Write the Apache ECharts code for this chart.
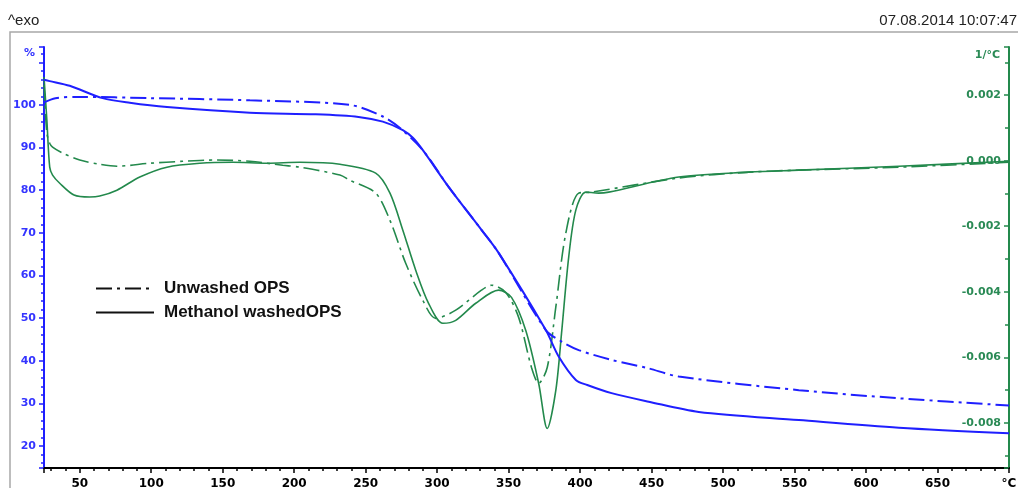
<!DOCTYPE html>
<html>
<head>
<meta charset="utf-8">
<script src="https://cdn.jsdelivr.net/npm/echarts@6/dist/echarts.min.js"></script>
<style>
  html, body { margin: 0; padding: 0; background: #fff; }
  #chart { width: 1018px; height: 488px; }
</style>
</head>
<body>
<div id="chart"></div>
<script>
// TGA, methanol washed OPS (% mass)
const tgaWashedT = [25, 29, 43, 66, 85, 111, 169, 215, 245, 262, 276, 283, 290, 308, 331, 343, 376, 385, 397, 405, 422, 448, 483, 553, 623, 700];
const tgaWashedPct = [105.9, 105.6, 104.5, 101.6, 100.5, 99.5, 98.2, 97.8, 97.2, 96.1, 94.1, 92.3, 89.4, 80.8, 70.7, 65.3, 47.2, 41.0, 35.5, 34.3, 32.4, 30.4, 28.0, 26.1, 24.3, 23.0];

// TGA, unwashed OPS (% mass)
const tgaUnwashedT = [25, 33, 50, 99, 169, 239, 262, 274, 290, 308, 331, 343, 376, 387, 399, 422, 447, 469, 553, 623, 700];
const tgaUnwashedPct = [100.6, 101.6, 101.9, 101.6, 101.1, 100.0, 97.3, 94.6, 89.4, 80.8, 70.7, 65.3, 47.2, 44.5, 42.5, 40.2, 38.3, 36.3, 33.1, 31.2, 29.5];

// DTG, methanol washed OPS (1/°C)
const dtgWashedT = [25, 27, 29, 31, 36, 46, 57, 64, 76, 92, 111, 134, 157, 181, 204, 232, 257, 267, 276, 285, 294, 304, 313, 327, 343, 352, 362, 371, 377, 383, 387, 392, 397, 404, 413, 420, 469, 518, 553, 623, 700];
const dtgWashedVal = [0.00255, 0.00124, -0.00020, -0.00044, -0.00069, -0.00105, -0.00111, -0.00108, -0.00090, -0.00050, -0.00020, -0.00008, -0.00005, -0.00008, -0.00005, -0.00011, -0.00038, -0.00099, -0.00212, -0.00334, -0.00435, -0.00496, -0.00487, -0.00435, -0.00395, -0.00417, -0.00518, -0.00679, -0.00817, -0.00701, -0.00527, -0.00295, -0.00151, -0.00096, -0.00099, -0.00096, -0.00050, -0.00035, -0.00029, -0.00017, -0.00002];

// DTG, unwashed OPS (1/°C)
const dtgUnwashedT = [25, 27, 29, 31, 38, 50, 64, 76, 99, 122, 146, 169, 192, 204, 232, 239, 257, 267, 278, 290, 299, 313, 331, 338, 348, 357, 366, 371, 377, 383, 390, 399, 408, 469, 518, 553, 623, 700];
const dtgUnwashedVal = [0.00231, 0.00084, 0.00053, 0.00041, 0.00023, 0.00002, -0.00011, -0.00017, -0.00008, -0.00002, 0.00002, -0.00002, -0.00014, -0.00020, -0.00044, -0.00060, -0.00099, -0.00182, -0.00313, -0.00426, -0.00481, -0.00456, -0.00395, -0.00380, -0.00402, -0.00478, -0.00631, -0.00679, -0.00631, -0.00447, -0.00221, -0.00099, -0.00096, -0.00053, -0.00035, -0.00029, -0.00020, -0.00005];

const legendNames = ['Unwashed OPS', 'Methanol washedOPS'];

const blue = '#1f1fff';
const blueText = '#3434ff';
const green = '#23894c';
const greenText = '#2a8a55';
const dashDot = [16, 5, 3, 5];
const labelFont = { fontFamily: 'DejaVu Sans', fontWeight: 'bold', fontSize: 11 };

function pairs(xs, ys) {
    return xs.map((x, i) => [x, ys[i]]);
}

const chart = echarts.init(document.getElementById('chart'));

chart.setOption({
    animation: false,
    title: [
        { text: '^exo', left: 8, top: 13, padding: 0, textStyle: { fontFamily: 'Liberation Sans', fontSize: 15, fontWeight: 'normal', color: '#222' } },
        { text: '07.08.2014 10:07:47', right: 1, top: 13, padding: 0, textStyle: { fontFamily: 'Liberation Sans', fontSize: 15, fontWeight: 'normal', color: '#222' } }
    ],
    graphic: [{
        type: 'rect', silent: true, z: -1,
        shape: { x: 10, y: 32, width: 1040, height: 480 },
        style: { fill: 'none', stroke: '#a8a8a8', lineWidth: 1.5 }
    }],
    legend: {
        data: legendNames,
        orient: 'vertical', left: 95, top: 280, padding: 0,
        itemWidth: 58, itemHeight: 18, itemGap: 7,
        itemStyle: { opacity: 0 },
        textStyle: { fontFamily: 'Liberation Sans', fontWeight: 'bold', fontSize: 17, color: '#111', padding: [0, 0, 0, 5] }
    },
    grid: { left: 44, right: 9, top: 47, bottom: 20, containLabel: false, outerBoundsMode: 'none' },
    xAxis: {
        type: 'value', min: 25, max: 700, splitNumber: 13,
        splitLine: { show: false },
        axisLine: { onZero: false, lineStyle: { color: '#000', width: 2 } },
        axisTick: { length: 5, lineStyle: { color: '#000', width: 1.5 } },
        minorTick: { show: true, splitNumber: 5, length: 3, lineStyle: { color: '#000', width: 1.5 } },
        axisLabel: Object.assign({
            showMinLabel: false, showMaxLabel: true, margin: 10, color: '#000',
            formatter: v => v === 700 ? '°C' : (v % 50 === 0 ? String(v) : '')
        }, labelFont, { fontSize: 12 })
    },
    yAxis: [{
        type: 'value', position: 'left', min: 14.84, max: 113.6, splitNumber: 10,
        name: '%', nameLocation: 'end', nameGap: -6,
        nameTextStyle: Object.assign({ color: blueText, align: 'right', verticalAlign: 'middle', padding: [0, 9, 0, 0] }, labelFont),
        splitLine: { show: false },
        axisLine: { show: true, lineStyle: { color: blue, width: 2 } },
        axisTick: { show: true, length: 5, lineStyle: { color: blue, width: 1.5 } },
        minorTick: { show: true, splitNumber: 5, length: 3, lineStyle: { color: blue, width: 1.5 } },
        axisLabel: Object.assign({
            margin: 8, color: blueText,
            formatter: v => (Math.abs(v % 10) < 1e-6 && v <= 100) ? String(v) : ''
        }, labelFont)
    }, {
        type: 'value', position: 'right', min: -0.009374, max: 0.003466, splitNumber: 6,
        name: '1/°C', nameLocation: 'end', nameGap: -8,
        nameTextStyle: Object.assign({ color: greenText, align: 'right', verticalAlign: 'middle', padding: [0, 9, 0, 0] }, labelFont),
        splitLine: { show: false },
        axisLine: { show: true, lineStyle: { color: green, width: 2 } },
        axisTick: { show: true, inside: true, length: 5, lineStyle: { color: green, width: 1.5 } },
        minorTick: { show: true, splitNumber: 2, length: 4, lineStyle: { color: green, width: 1.5 } },
        axisLabel: Object.assign({
            inside: true, margin: 8, color: greenText,
            formatter: v => {
                const k = Math.round(v / 0.002);
                if (Math.abs(k * 0.002 - v) < 1e-9 && k >= -4 && k <= 1) return (k * 0.002).toFixed(3);
                return '';
            }
        }, labelFont)
    }],
    series: [
        // legend only entries (black keys)
        { name: legendNames[0], type: 'line', data: [], symbol: 'none', symbolSize: 0, lineStyle: { color: '#111', width: 2.5, type: dashDot }, itemStyle: { color: '#111' } },
        { name: legendNames[1], type: 'line', data: [], symbol: 'none', symbolSize: 0, lineStyle: { color: '#111', width: 2.5 }, itemStyle: { color: '#111' } },

        { type: 'line', yAxisIndex: 1, data: pairs(dtgUnwashedT, dtgUnwashedVal), symbol: 'none', smooth: 0.3,
          lineStyle: { color: green, width: 1.6, type: dashDot } },
        { type: 'line', yAxisIndex: 1, data: pairs(dtgWashedT, dtgWashedVal), symbol: 'none', smooth: 0.3,
          lineStyle: { color: green, width: 1.6 } },
        { type: 'line', yAxisIndex: 0, data: pairs(tgaUnwashedT, tgaUnwashedPct), symbol: 'none', smooth: 0.3,
          lineStyle: { color: blue, width: 2, type: dashDot } },
        { type: 'line', yAxisIndex: 0, data: pairs(tgaWashedT, tgaWashedPct), symbol: 'none', smooth: 0.3,
          lineStyle: { color: blue, width: 2 } }
    ]
});
</script>
</body>
</html>
